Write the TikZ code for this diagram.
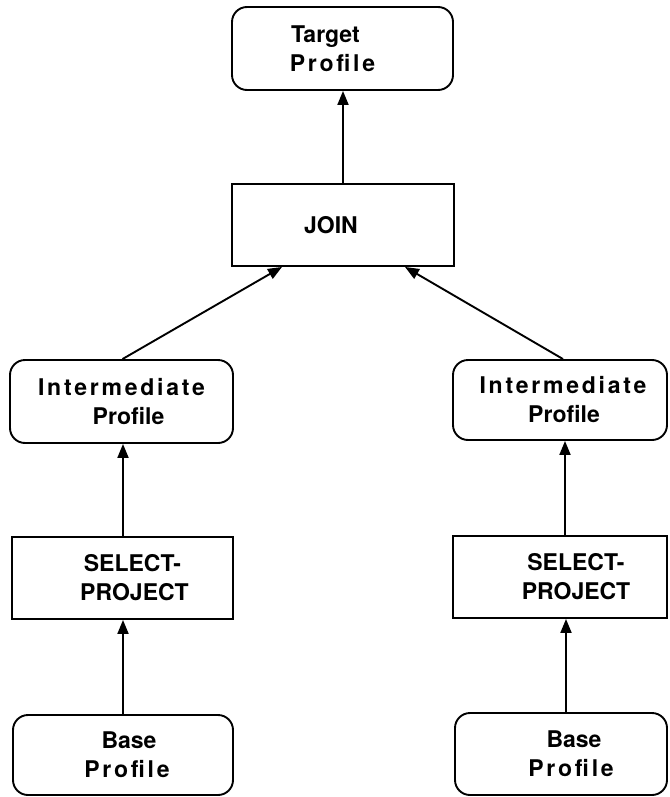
\documentclass[tikz,border=0pt]{standalone}
\usepackage{fontspec}
\setmainfont{TeX Gyre Heros}
\newfontfamily\spc[LetterSpace=12]{TeX Gyre Heros}
\usetikzlibrary{arrows.meta}
\begin{document}
\begin{tikzpicture}[x=1pt,y=-1pt,
  box/.style={draw,line width=1.9pt,inner sep=0pt,align=center,
    font=\fontsize{23}{29}\selectfont\bfseries},
  rbox/.style={box,rounded corners=15pt},
  conn/.style={line width=1.9pt,-{Triangle[length=14pt,width=11pt]}}]
\useasboundingbox (0,0) rectangle (669,797);
% top
\node[rbox,minimum width=221pt,minimum height=83pt] (T) at (342.5,48.5)
  {\hspace*{-34pt}Target\\\hspace*{-20pt}{\spc Profile}};
\node[box,minimum width=222pt,minimum height=82pt] (J) at (343,225)
  {\hspace*{-24pt}JOIN};
% left column
\node[rbox,minimum width=223pt,minimum height=83pt] (LI) at (121.5,401.5)
  {{\spc Intermediate}\\\hspace*{14pt}Profile};
\node[box,minimum width=221pt,minimum height=82pt] (LS) at (122.5,578)
  {\hspace*{20pt}SELECT-\\\hspace*{24pt}PROJECT};
\node[rbox,minimum width=220pt,minimum height=80pt] (LB) at (123,755)
  {\hspace*{12pt}Base\\\hspace*{8pt}{\spc Profile}};
% right column
\node[rbox,minimum width=214pt,minimum height=80pt] (RI) at (560,400)
  {\hspace*{6pt}{\spc Intermediate}\\\hspace*{8pt}Profile};
\node[box,minimum width=214pt,minimum height=82pt] (RS) at (560,577)
  {\hspace*{32pt}SELECT-\\\hspace*{32pt}PROJECT};
\node[rbox,minimum width=212pt,minimum height=82pt] (RB) at (561,754)
  {\hspace*{26pt}Base\\\hspace*{20pt}{\spc Profile}};
% connectors
\draw[conn] (J.north) -- (J.north |- T.south);
\draw[conn] ([xshift=1pt]LI.north) -- ([xshift=-61pt]J.south);
\draw[conn] ([xshift=3pt]RI.north) -- ([xshift=62pt]J.south);
\draw[conn] ([xshift=0.5pt]LS.north) -- ([xshift=0.5pt]LS.north |- LI.south);
\draw[conn] ([xshift=5pt]RS.north) -- ([xshift=5pt]RS.north |- RI.south);
\draw[conn] (LB.north) -- (LB.north |- LS.south);
\draw[conn] ([xshift=5pt]RB.north) -- ([xshift=5pt]RB.north |- RS.south);
\end{tikzpicture}
\end{document}
